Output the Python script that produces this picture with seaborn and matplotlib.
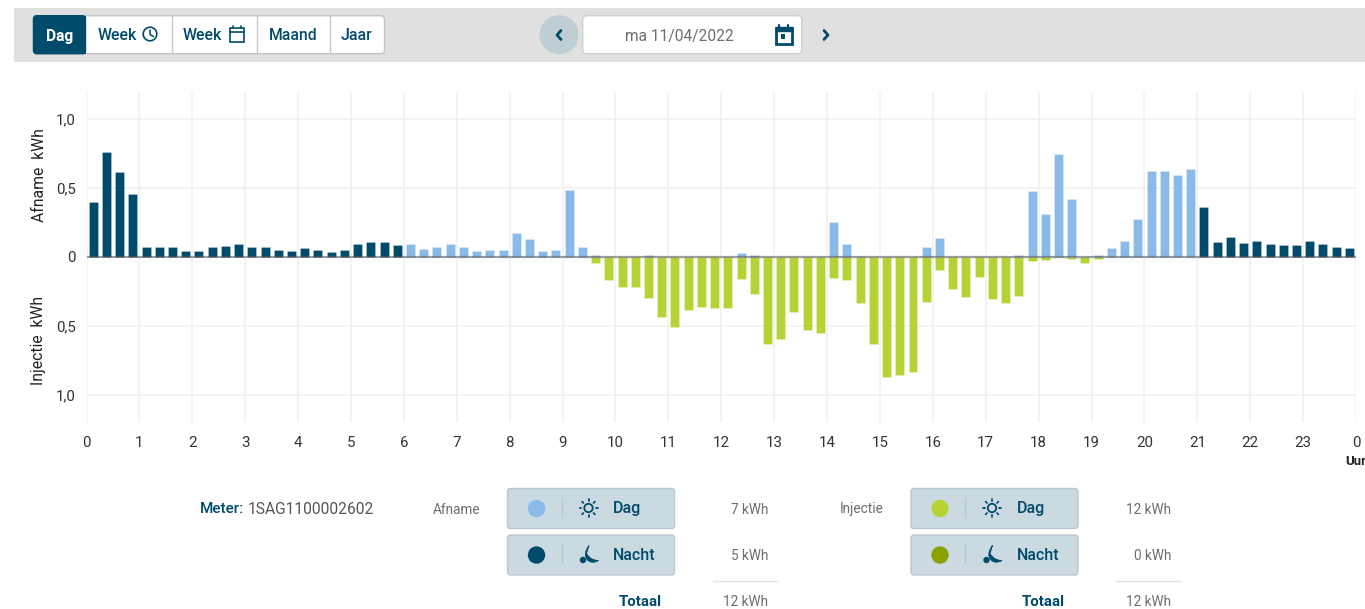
import numpy as np
import pandas as pd
import matplotlib
matplotlib.use("Agg")
import matplotlib.pyplot as plt
from matplotlib.patches import Circle, FancyBboxPatch, PathPatch, Rectangle
from matplotlib.path import Path
import seaborn as sns

# ---------- data, one value per 15 minutes ----------
afname_kwh = [
    .395, .76, .612, .455, .07, .072, .07, .042, .042, .07, .082, .095,
    .075, .068, .05, .042, .065, .053, .036, .053, .09, .106, .11, .085,
    .092, .06, .07, .09, .068, .041, .05, .048, .17, .133, .043, .048,
    .488, .07, .01, 0, 0, 0, .017, 0, 0, 0, 0, 0,
    0, .027, .01, 0, 0, 0, 0, 0, .254, .095, .005, 0,
    0, 0, 0, .068, .135, 0, 0, 0, 0, 0, .012, .475,
    .312, .745, .42, 0, .012, .065, .113, .275, .622, .62, .596, .635,
    .364, .106, .145, .104, .114, .094, .085, .085, .118, .094, .068, .063,
]
injectie_kwh = [0] * 38 + [
    .046, .17, .222, .217, .30, .435, .512, .384, .36, .372,
    .372, .157, .266, .635, .594, .399, .53, .555, .151, .17, .338, .634,
    .873, .858, .833, .324, .092, .232, .292, .147, .307, .333, .287, .031,
    .022, 0, .017, .048, .015,
] + [0] * 19
nacht_tot_uur = 6
nacht_vanaf_uur = 21
uur_labels = [str(h) for h in range(24)] + ["0"]
y_ticks = [1.0, 0.5, 0.0, -0.5, -1.0]
y_labels = ["1,0", "0,5", "0", "0,5", "1,0"]
knoppen = ["Dag", "Week", "Week", "Maand", "Jaar"]
datum = "ma 11/04/2022"
meter = "1SAG1100002602"
afname_totalen = ["7 kWh", "5 kWh", "12 kWh"]
injectie_totalen = ["12 kWh", "0 kWh", "12 kWh"]

TEAL = "#004B6B"
LBLUE = "#8ABBE8"
GREEN = "#B5D334"
DGREEN = "#8AA100"
BOX = "#CBD9E1"
BOXE = "#B9C7CF"
GRAY = "#6E6E6E"

# ---------- table for seaborn ----------
slots = np.arange(96)
uur = slots // 4
df = pd.concat([
    pd.DataFrame({"slot": slots, "kwh": afname_kwh,
                  "soort": np.where((uur < nacht_tot_uur) | (uur >= nacht_vanaf_uur),
                                    "Afname nacht", "Afname dag")}),
    pd.DataFrame({"slot": slots, "kwh": -np.array(injectie_kwh, dtype=float),
                  "soort": "Injectie dag"}),
])
df = df[df.kwh != 0]

sns.set_theme(style="white")
plt.rcParams["font.family"] = ["Roboto", "DejaVu Sans"]

W, H = 1365, 609
fig = plt.figure(figsize=(W / 100, H / 100), dpi=100, facecolor="white")
ax = fig.add_axes([86.5 / W, 1 - 421.7 / H, (1356 - 86.5) / W, (421.7 - 92) / H])

sns.barplot(data=df, x="slot", y="kwh", hue="soort", order=list(slots),
            palette={"Afname nacht": TEAL, "Afname dag": LBLUE, "Injectie dag": GREEN},
            dodge=False, width=0.68, errorbar=None, legend=False, ax=ax, saturation=1,
            edgecolor=(1, 1, 1, 0.25), linewidth=0.6, zorder=3)

ax.set_xlim(-0.5, 95.5)
ax.set_ylim(-1.195, 1.195)
ax.set_xticks(np.arange(25) * 4 - 0.5, uur_labels)
ax.set_yticks(y_ticks, y_labels)
ax.set_xlabel("")
ax.set_ylabel("")
ax.grid(True, color="#F1F1F1", lw=1.2, zorder=0)
ax.set_axisbelow(True)
ax.tick_params(axis="both", length=0, labelsize=10.8, labelcolor="#333333")
ax.tick_params(axis="x", pad=10.5)
ax.tick_params(axis="y", pad=7.5)
for s in ax.spines.values():
    s.set_visible(False)
ax.axhline(0, color="#555555", alpha=0.55, lw=1.6, zorder=5)

# ---------- page furniture in pixel coordinates ----------
ui = fig.add_axes([0, 0, 1, 1], zorder=-1)
ui.set_xlim(0, W)
ui.set_ylim(H, 0)
ui.axis("off")
top = fig.add_axes([0, 0, 1, 1], zorder=5)
top.set_xlim(0, W)
top.set_ylim(H, 0)
top.axis("off")
top.patch.set_alpha(0)


def box(x0, y0, x1, y1, fc, ec, r=3, a=ui, z=2, lw=1):
    a.add_patch(FancyBboxPatch((x0 + r, y0 + r), x1 - x0 - 2 * r, y1 - y0 - 2 * r,
                               boxstyle=f"round,pad={r}", fc=fc, ec=ec, lw=lw, zorder=z))


def txt(x, y, s, color=TEAL, size=10.6, ha="left", weight="normal", rot=0):
    top.text(x, y, s, color=color, fontsize=size, ha=ha, va="center_baseline",
             fontweight=weight, rotation=rot)


def line(xs, ys, color=TEAL, lw=1.3):
    top.plot(xs, ys, color=color, lw=lw, solid_capstyle="round", solid_joinstyle="round")


def sun(cx, cy):
    top.add_patch(Circle((cx, cy), 4.2, fc="none", ec=TEAL, lw=1.3))
    for a in np.deg2rad(np.arange(0, 360, 45)):
        line([cx + 7.2 * np.cos(a), cx + 9 * np.cos(a)],
             [cy + 7.2 * np.sin(a), cy + 9 * np.sin(a)], lw=1.3)


def moon(cx, cy):
    verts = [(cx + 0.5, cy - 9), (cx - 6.5, cy + 0), (cx - 0.5, cy + 6), (cx + 4, cy + 9.5),
             (cx + 10, cy + 6), (cx + 2, cy + 6), (cx - 2, cy - 1), (cx + 0.5, cy - 9)]
    codes = [Path.MOVETO, Path.CURVE3, Path.CURVE3, Path.CURVE3, Path.CURVE3,
             Path.CURVE3, Path.CURVE3, Path.CLOSEPOLY]
    top.add_patch(PathPatch(Path(verts, codes), fc=TEAL, ec=TEAL, lw=0.6))
    top.add_patch(Circle((cx - 5.5, cy + 5.5), 3.2, fc=TEAL, ec="none"))


# header band
ui.add_patch(Rectangle((14, 8), W - 14, 54, fc="#E0E0E0", ec="none", zorder=1))
# segmented buttons
box(33.5, 15.7, 384.5, 53.7, "white", "#C4C4C4", r=4)
box(33.5, 15.7, 85.5, 53.7, TEAL, TEAL, r=3, z=3)
ui.add_patch(Rectangle((80, 15.7), 6, 38, fc=TEAL, ec="none", zorder=3))
for xs in [171.5, 256.5, 329.5]:
    ui.plot([xs, xs], [15.7, 53.7], color="#C8C8C8", lw=1, zorder=4)
txt(59.5, 34.5, knoppen[0], color="white", ha="center", weight="bold", size=11.2)
txt(97.5, 34.5, knoppen[1], weight="medium", size=11.4)
txt(183, 34.5, knoppen[2], weight="medium", size=11.4)
txt(293, 34.5, knoppen[3], ha="center", weight="medium", size=11.3)
txt(356.5, 34.5, knoppen[4], ha="center", weight="medium", size=11.3)
# clock icon
top.add_patch(Circle((150, 34), 6.8, fc="none", ec=TEAL, lw=1.2))
line([150, 150, 153.5], [30, 34.5, 36.5], lw=1.1)
# outline calendar icon
top.add_patch(Rectangle((230, 28), 13.5, 13.5, fc="none", ec=TEAL, lw=1.2))
line([230, 243.5], [32, 32], lw=1.2)
line([233, 233], [26, 28], lw=1.2)
line([240.5, 240.5], [26, 28], lw=1.2)
# date picker
ui.add_patch(Circle((559, 34.7), 19.5, fc="#BFCDD4", ec="none", zorder=2))
box(582.7, 15.7, 801.7, 53.7, "white", "#CFCFCF", r=4)
txt(679.5, 34.5, datum, color=GRAY, ha="center", size=11.2)
line([561, 557, 561], [30.5, 35, 39.5], lw=2)
line([824, 828, 824], [30.5, 35, 39.5], lw=2)
top.add_patch(Rectangle((775.5, 27.5), 16, 16.5, fc="white", ec=TEAL, lw=2))
top.add_patch(Rectangle((775.5, 26.5), 16, 4.5, fc=TEAL, ec=TEAL, lw=1))
line([779, 779], [25, 27], lw=1.6)
line([788, 788], [25, 27], lw=1.6)
top.add_patch(Rectangle((780.5, 34), 4.5, 4.5, fc=TEAL, ec="none"))

# y axis titles
txt(39, 175.5, "Afname  kWh", color="#222222", ha="center", size=11.3, rot=90)
txt(39, 340, "Injectie  kWh", color="#222222", ha="center", size=11.3, rot=90)
top.texts[-1].set_va("center")
top.texts[-2].set_va("center")
# unit
txt(1345, 460, "Uur", color="#222222", size=9.5, weight="bold")

# meter
txt(200, 507.5, "Meter:", weight="medium", size=11)
txt(248, 507.5, meter, color="#555555", size=11.2)


def legend(x0, label, lx, vals, c1, c2, vx, tx):
    txt(lx, 508, label, color=GRAY, size=9.8)
    for y0, col, name, icon in [(488.5, c1, "Dag", sun), (535, c2, "Nacht", moon)]:
        box(x0, y0, x0 + 167, y0 + 40, BOX, BOXE, r=3)
        ui.add_patch(Circle((x0 + 29, y0 + 20), 8.7, fc=col, ec="none", zorder=4))
        ui.plot([x0 + 54, x0 + 54], [y0 + 9, y0 + 28], color="#BAC9D1", lw=1, zorder=4)
        icon(x0 + 81, y0 + 19.5)
        txt(x0 + 105.5, y0 + 18.5, name, weight="medium", size=11.5)
    txt(vx, 508, vals[0], color=GRAY, ha="right", size=9.8)
    txt(vx, 555, vals[1], color=GRAY, ha="right", size=9.8)
    ui.plot([vx - 55, vx + 9], [580.5, 580.5], color="#E2E2E2", lw=1)
    txt(tx, 601, "Totaal", weight="bold", size=10.9)
    txt(vx, 601, vals[2], color=GRAY, ha="right", size=9.8)


legend(507.5, "Afname", 433, afname_totalen, LBLUE, TEAL, 768, 619)
legend(911, "Injectie", 840, injectie_totalen, GREEN, DGREEN, 1171, 1022)

fig.savefig("out.png", dpi=100, facecolor="white")
